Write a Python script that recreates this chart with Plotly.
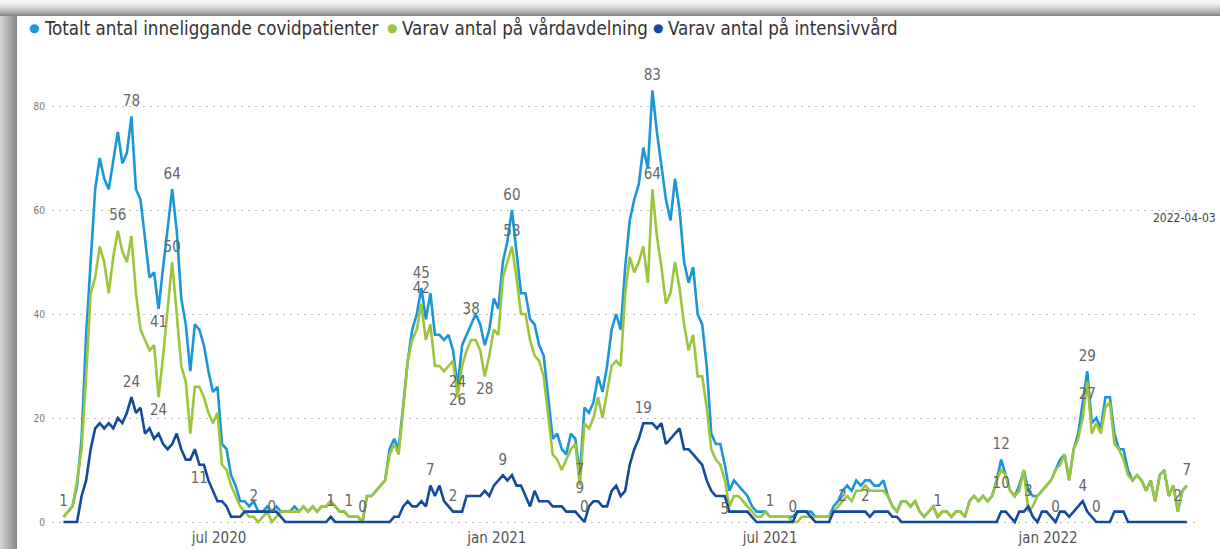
import plotly.graph_objects as go
import pandas as pd

# ---------------- data (3-day sampling) ----------------
START = "2020-03-20"
STEP_DAYS = 3

total = [
    1, 2, 3, 7, 16, 36, 50, 64, 70, 66,
    64, 70, 75, 69, 71, 78, 64, 62, 54, 47,
    48, 41, 49, 56, 64, 56, 43, 38, 29, 38,
    37, 34, 29, 25, 26, 15, 14, 9, 7, 4,
    4, 3, 4, 2, 2, 3, 2, 3, 2, 2,
    2, 3, 2, 3, 2, 3, 2, 3, 3, 4,
    3, 2, 2, 1, 1, 1, 0, 5, 5, 6,
    7, 8, 14, 16, 14, 22, 31, 37, 40, 45,
    39, 44, 36, 36, 35, 36, 33, 26, 34, 36,
    38, 40, 38, 34, 37, 43, 41, 50, 54, 60,
    52, 44, 44, 39, 38, 34, 32, 24, 16, 17,
    14, 13, 17, 16, 9, 22, 21, 23, 28, 25,
    30, 37, 40, 37, 49, 58, 62, 65, 72, 68,
    83, 75, 68, 62, 58, 66, 60, 50, 46, 49,
    40, 38, 30, 17, 15, 15, 11, 6, 8, 7,
    6, 5, 3, 2, 2, 2, 1, 1, 1, 1,
    1, 1, 2, 2, 2, 2, 1, 1, 1, 1,
    3, 4, 6, 7, 6, 8, 7, 8, 8, 7,
    7, 8, 5, 3, 2, 4, 4, 3, 4, 2,
    1, 2, 3, 1, 2, 2, 1, 2, 2, 1,
    4, 5, 4, 5, 4, 5, 8, 12, 9, 6,
    5, 7, 10, 6, 5, 5, 6, 7, 8, 10,
    12, 13, 8, 14, 17, 23, 29, 19, 20, 18,
    24, 24, 17, 14, 14, 10, 8, 9, 8, 6,
    8, 4, 9, 10, 5, 7, 2, 6, 7,
]

ward = [
    1, 2, 3, 8, 14, 28, 44, 47, 53, 50,
    44, 51, 56, 52, 50, 55, 44, 37, 35, 33,
    34, 24, 32, 41, 50, 40, 30, 27, 17, 26,
    26, 24, 21, 19, 21, 11, 10, 7, 5, 3,
    2, 1, 1, 0, 1, 2, 0, 1, 2, 2,
    2, 2, 2, 3, 2, 3, 2, 3, 3, 4,
    3, 2, 2, 1, 1, 1, 0, 5, 5, 6,
    7, 8, 13, 15, 13, 22, 31, 35, 37, 42,
    35, 38, 30, 30, 29, 30, 31, 24, 30, 33,
    35, 35, 33, 28, 32, 37, 36, 47, 50, 53,
    47, 40, 40, 35, 32, 31, 28, 21, 13, 12,
    10, 12, 14, 15, 7, 19, 18, 20, 24, 20,
    25, 30, 31, 30, 44, 51, 48, 50, 53, 46,
    64, 55, 49, 42, 44, 50, 45, 38, 33, 36,
    28, 28, 22, 14, 12, 11, 8, 3, 5, 5,
    4, 3, 2, 1, 1, 2, 1, 1, 1, 1,
    1, 0, 0, 1, 1, 1, 1, 1, 1, 1,
    2, 3, 4, 5, 4, 6, 6, 7, 6, 6,
    6, 6, 5, 3, 2, 4, 4, 3, 4, 2,
    1, 2, 3, 1, 2, 2, 1, 2, 2, 1,
    4, 5, 4, 5, 4, 5, 8, 10, 9, 6,
    5, 6, 10, 2, 3, 5, 6, 7, 8, 10,
    11, 13, 8, 14, 16, 20, 27, 17, 19, 17,
    22, 23, 15, 14, 12, 9, 8, 9, 8, 6,
    8, 4, 9, 10, 5, 7, 2, 6, 7,
]

icu = [
    0, 0, 0, 0, 5, 8, 14, 18, 19, 18,
    19, 18, 20, 19, 21, 24, 21, 22, 17, 18,
    16, 17, 15, 14, 15, 17, 14, 12, 12, 14,
    11, 11, 8, 6, 4, 4, 3, 1, 1, 1,
    2, 2, 2, 2, 2, 2, 2, 2, 1, 0,
    0, 0, 0, 0, 0, 0, 0, 0, 0, 1,
    0, 0, 0, 0, 0, 0, 0, 0, 0, 0,
    0, 0, 0, 1, 1, 3, 4, 3, 3, 4,
    3, 7, 5, 7, 4, 3, 2, 2, 2, 5,
    5, 5, 5, 6, 5, 7, 8, 9, 8, 9,
    7, 7, 5, 3, 6, 4, 4, 4, 3, 3,
    3, 2, 2, 2, 1, 0, 3, 4, 4, 3,
    3, 6, 7, 5, 6, 11, 14, 16, 19, 19,
    19, 18, 19, 15, 16, 17, 18, 14, 14, 13,
    12, 11, 8, 6, 5, 5, 5, 2, 2, 2,
    2, 2, 1, 0, 0, 0, 0, 0, 0, 0,
    0, 0, 2, 2, 2, 1, 0, 0, 0, 0,
    2, 2, 2, 2, 2, 2, 2, 2, 1, 2,
    2, 2, 2, 1, 1, 0, 0, 0, 0, 0,
    0, 0, 0, 0, 0, 0, 0, 0, 0, 0,
    0, 0, 0, 0, 0, 0, 0, 2, 2, 1,
    0, 2, 2, 3, 1, 0, 2, 2, 1, 0,
    2, 2, 1, 2, 3, 4, 2, 1, 0, 0,
    0, 0, 2, 2, 2, 0, 0, 0, 0, 0,
    0, 0, 0, 0, 0, 0, 0, 0, 0,
]

# indices of points that carry a data label, and where the label sits
total_label_idx = [0, 15, 21, 24, 63, 66, 79, 87, 90, 99, 114, 130, 156, 193, 207, 226, 248]
total_label_pos = ["top", "top", "bottom", "top", "top", "top", "top", "bottom", "top",
                   "top", "bottom", "top", "top", "top", "top", "top", "top"]
ward_label_idx = [12, 21, 24, 46, 79, 87, 93, 99, 114, 130, 207, 226, 246]
ward_label_pos = ["top", "bottom", "top", "top", "top", "top", "bottom", "top", "top",
                  "top", "bottom", "bottom", "top"]
icu_label_idx = [15, 30, 42, 59, 81, 86, 97, 115, 128, 146, 161, 172, 177, 213, 219, 225, 228]
icu_label_pos = ["top", "bottom", "top", "top", "top", "top", "top", "top", "top", "bottom",
                 "top", "top", "top", "top", "top", "top", "top"]

series_names = ["Totalt antal inneliggande covidpatienter",
                "Varav antal på vårdavdelning",
                "Varav antal på intensivvård"]
x_tick_dates = ["2020-07-01", "2021-01-01", "2021-07-01", "2022-01-01"]
x_tick_text = ["jul 2020", "jan 2021", "jul 2021", "jan 2022"]
y_tick_vals = [0, 20, 40, 60, 80]
date_stamp = "2022-04-03"

assert len(total) == len(ward) == len(icu), (len(total), len(ward), len(icu))

# ---------------- styling ----------------
W, H = 1220, 549
L, R, T, B = 52, 23, 50, 22
PW, PH = W - L - R, H - T - B
FONT = "'DejaVu Sans Condensed', 'Liberation Sans Narrow', 'Roboto Condensed', Roboto, sans-serif"
COLORS = ["#1B96D6", "#9DC53B", "#134A9C"]
LABEL_COLOR = "#666666"

dates = pd.date_range(START, periods=len(total), freq=f"{STEP_DAYS}D")

# axis ranges: jul 2020 at x=219 px, 1.51 px per day; value 0 at y=522 px, 5.2 px per unit
px_per_day = 1.51
ref_date = pd.Timestamp("2020-07-01")
x0 = ref_date - pd.Timedelta(days=(219 - L) / px_per_day)
x1 = ref_date + pd.Timedelta(days=(L + PW - 219) / px_per_day)
y0 = (522 - (T + PH)) / 5.2
y1 = (522 - T) / 5.2


def pxx(X):
    return (X - L) / PW


def pxy(Y):
    return 1 - (Y - T) / PH


fig = go.Figure()
for vals, name, col in zip([total, ward, icu], series_names, COLORS):
    fig.add_trace(go.Scatter(x=dates, y=vals, mode="lines", name=name,
                             line=dict(color=col, width=2.6), showlegend=False,
                             hoverinfo="x+y"))

for vals, idxs, poss in [(total, total_label_idx, total_label_pos),
                         (ward, ward_label_idx, ward_label_pos),
                         (icu, icu_label_idx, icu_label_pos)]:
    fig.add_trace(go.Scatter(
        x=[dates[i] for i in idxs], y=[vals[i] for i in idxs],
        text=[str(vals[i]) for i in idxs], mode="markers+text",
        marker=dict(size=9, opacity=0),
        textposition=[p + " center" for p in poss],
        textfont=dict(family=FONT, size=15, color=LABEL_COLOR),
        showlegend=False, hoverinfo="skip", cliponaxis=False))

shapes = []


def hexgrey(v):
    v = int(round(v))
    return f"#{v:02x}{v:02x}{v:02x}"


# grey shadow strips (left and top edges)
for i in range(17):
    v = 0xd4 - (0xd4 - 0x88) * i / 16
    shapes.append(dict(type="rect", xref="paper", yref="paper",
                       x0=pxx(i), x1=pxx(i + 1), y0=pxy(H), y1=pxy(15),
                       fillcolor=hexgrey(v), line=dict(width=0), layer="above"))
for j in range(16):
    v = 0xf6 - (0xf6 - 0x88) * (j / 15) ** 1.6
    shapes.append(dict(type="rect", xref="paper", yref="paper",
                       x0=pxx(0), x1=pxx(W), y0=pxy(j + 1), y1=pxy(j),
                       fillcolor=hexgrey(v), line=dict(width=0), layer="above"))

annotations = []
legend_dot_x = [34, 392, 658]
legend_text_x = [42, 400, 666]
for name, col, dx, tx in zip(series_names, COLORS, legend_dot_x, legend_text_x):
    annotations.append(dict(
        xref="paper", yref="paper", x=pxx(dx), y=pxy(28), xanchor="center", yanchor="middle",
        text="●", showarrow=False, font=dict(family="DejaVu Sans", size=12, color=col)))
    annotations.append(dict(
        xref="paper", yref="paper", x=pxx(tx), y=pxy(28), xanchor="left", yanchor="middle",
        text=name, showarrow=False, font=dict(family=FONT, size=18.6, color="#333333")))
annotations.append(dict(
    xref="paper", yref="paper", x=pxx(1151), y=pxy(218), xanchor="left", yanchor="middle",
    text=date_stamp, showarrow=False, font=dict(family=FONT, size=12, color="#444444")))

fig.update_layout(
    width=W, height=H,
    margin=dict(l=L, r=R, t=T, b=B, autoexpand=False),
    paper_bgcolor="#ffffff", plot_bgcolor="#ffffff",
    font=dict(family=FONT, color="#555555"),
    showlegend=False,
    shapes=shapes, annotations=annotations,
    xaxis=dict(range=[x0, x1], tickvals=x_tick_dates, ticktext=x_tick_text,
               showgrid=False, zeroline=False, showline=False, ticks="",
               tickfont=dict(family=FONT, size=15, color="#555555")),
    yaxis=dict(range=[y0, y1], tickvals=y_tick_vals, showgrid=True,
               gridcolor="#bdbdbd", griddash="2px,5px", gridwidth=1,
               zeroline=False, showline=False, ticks="", ticklabelstandoff=6,
               tickfont=dict(family=FONT, size=10, color="#777777")),
)

fig.write_html("out.html", config={"displayModeBar": False},
               post_script="document.body.style.margin='0px';")
